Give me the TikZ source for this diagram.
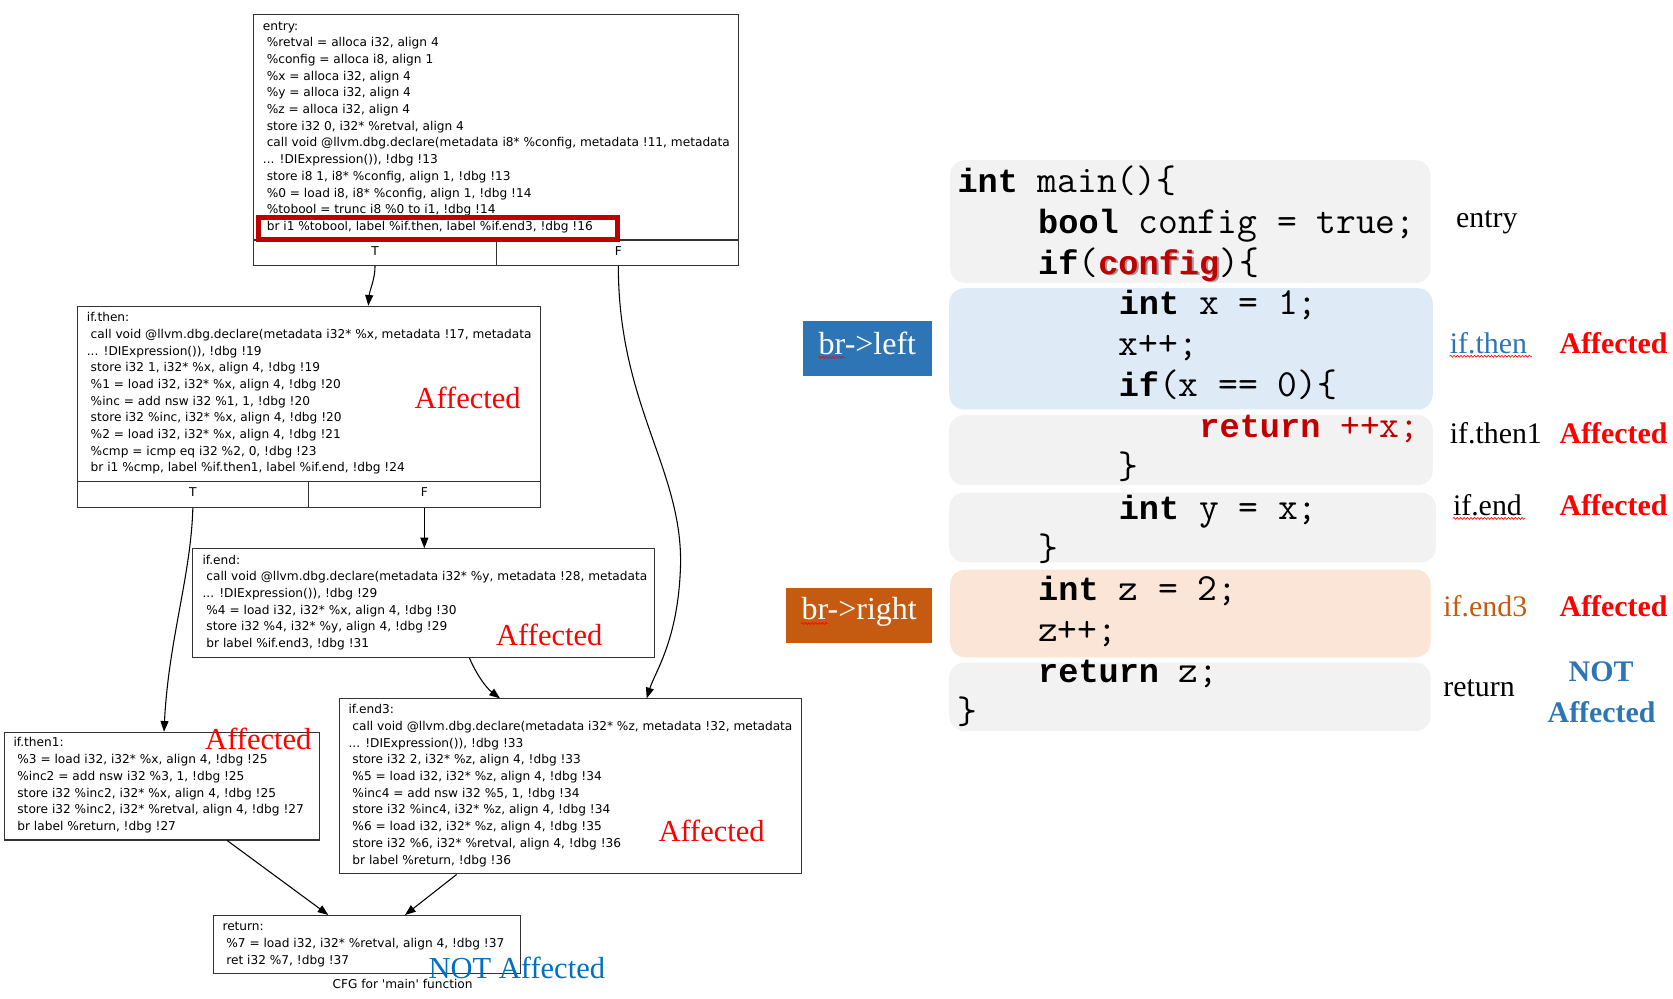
\documentclass[tikz,border=0pt]{standalone}
\usepackage{fontspec}
\usetikzlibrary{arrows.meta,decorations.pathmorphing}
\newfontfamily\cfgfont{DejaVu Sans}
\newfontfamily\codefont{Liberation Mono}
\newfontfamily\lblfont{Liberation Serif}
\definecolor{codegray}{HTML}{F2F2F2}
\definecolor{codeblue}{HTML}{DEEBF7}
\definecolor{codepeach}{HTML}{FBE5D6}
\definecolor{brblue}{HTML}{2E75B6}
\definecolor{brorange}{HTML}{C55A11}
\definecolor{darkred}{HTML}{C00000}
\definecolor{affred}{HTML}{FF0000}
\definecolor{notblue}{HTML}{0070C0}
\newcommand\cfgsize{\fontsize{11.4pt}{15.65pt}\selectfont}
\newcommand\irblock[1]{\vtop{\cfgfont\cfgsize\baselineskip=15.65pt\lineskiplimit=-100pt\lineskip=0pt #1}}
\newcommand\irl[1]{\hbox{#1}}
\newcommand\kw[1]{{\codefont\bfseries\fontsize{31.5pt}{38pt}\selectfont #1}}
\tikzset{
  cfgbox/.style={draw=black!80, line width=1pt, inner sep=0pt, anchor=north west},
  irtext/.style={anchor=base west, inner sep=0pt},
  port/.style={anchor=base, inner sep=0pt, font=\cfgfont\cfgsize},
  edge/.style={draw=black, line width=1pt, -{Triangle[length=10pt,width=7.5pt]}},
  affcfg/.style={anchor=base west, inner sep=0pt, text=affred, font=\lblfont\fontsize{28.6pt}{34pt}\selectfont},
  codebox/.style={rounded corners=14pt, inner sep=0pt, anchor=north west, draw=none},
  codeline/.style={anchor=base west, inner sep=0pt, font=\ttfamily\fontsize{36pt}{38pt}\selectfont},
  lbl/.style={anchor=base west, inner sep=0pt, font=\lblfont\fontsize{28pt}{34pt}\selectfont},
  lblaff/.style={lbl, text=affred, font=\lblfont\bfseries\fontsize{28pt}{34pt}\selectfont},
  brtxt/.style={anchor=base, inner sep=0pt, text=white, font=\lblfont\fontsize{30pt}{36pt}\selectfont},
  squig/.style={draw=red, line width=0.6pt, decorate, decoration={snake, amplitude=0.9pt, segment length=3.2pt}}
}
\begin{document}
\begin{tikzpicture}[x=1pt,y=-1pt]
\useasboundingbox (0,0) rectangle (1568.44,936.56);

% ---------------- CFG boxes ----------------
\node[cfgbox, minimum width=454.5pt, minimum height=235.3pt] (entry) at (237.5,13.1) {};
\node[cfgbox, minimum width=433.4pt, minimum height=188.4pt] (ifthen) at (72.4,286.6) {};
\node[cfgbox, minimum width=433.2pt, minimum height=101.6pt] (ifend) at (180.3,514) {};
\node[cfgbox, minimum width=295.3pt, minimum height=101pt] (ifthenone) at (3.75,686) {};
\node[cfgbox, minimum width=432.9pt, minimum height=164.1pt] (ifendthree) at (318.1,654.7) {};
\node[cfgbox, minimum width=288.1pt, minimum height=54.7pt] (ret) at (199.4,857.8) {};

% T/F rows
\draw[line width=1pt, black!80] (entry.west |- 0,225) -- (entry.east |- 0,225);
\draw[line width=1pt, black!80] (465.6,225) -- (465.6,0 |- entry.south);
\draw[line width=1pt, black!80] (ifthen.west |- 0,451.6) -- (ifthen.east |- 0,451.6);
\draw[line width=1pt, black!80] (289.5,451.6) -- (289.5,0 |- ifthen.south);
\node[port] (entryTl) at (351.6,239.5) {T};
\node[port] (entryFl) at (579.7,239.5) {F};
\node[port] (ifthenTl) at (180.8,465.8) {T};
\node[port] (ifthenFl) at (397.8,465.8) {F};

% texts
\node[irtext] (entrytxt) at (246.3,28.2) {\irblock{%
\irl{entry:}
\irl{\ \%retval = alloca i32, align 4}
\irl{\ \%config = alloca i8, align 1}
\irl{\ \%x = alloca i32, align 4}
\irl{\ \%y = alloca i32, align 4}
\irl{\ \%z = alloca i32, align 4}
\irl{\ store i32 0, i32* \%retval, align 4}
\irl{\ call void @llvm.dbg.declare(metadata i8* \%config, metadata !11, metadata}
\irl{... !DIExpression()), !dbg !13}
\irl{\ store i8 1, i8* \%config, align 1, !dbg !13}
\irl{\ \%0 = load i8, i8* \%config, align 1, !dbg !14}
\irl{\ \%tobool = trunc i8 \%0 to i1, !dbg !14}
\irl{\ br i1 \%tobool, label \%if.then, label \%if.end3, !dbg !16}}};

\node[irtext] (ifthentxt) at (81.25,301.6) {\irblock{%
\irl{if.then:}
\irl{\ call void @llvm.dbg.declare(metadata i32* \%x, metadata !17, metadata}
\irl{... !DIExpression()), !dbg !19}
\irl{\ store i32 1, i32* \%x, align 4, !dbg !19}
\irl{\ \%1 = load i32, i32* \%x, align 4, !dbg !20}
\irl{\ \%inc = add nsw i32 \%1, 1, !dbg !20}
\irl{\ store i32 \%inc, i32* \%x, align 4, !dbg !20}
\irl{\ \%2 = load i32, i32* \%x, align 4, !dbg !21}
\irl{\ \%cmp = icmp eq i32 \%2, 0, !dbg !23}
\irl{\ br i1 \%cmp, label \%if.then1, label \%if.end, !dbg !24}}};

\node[irtext] (ifendtxt) at (189.7,528.75) {\irblock{%
\irl{if.end:}
\irl{\ call void @llvm.dbg.declare(metadata i32* \%y, metadata !28, metadata}
\irl{... !DIExpression()), !dbg !29}
\irl{\ \%4 = load i32, i32* \%x, align 4, !dbg !30}
\irl{\ store i32 \%4, i32* \%y, align 4, !dbg !29}
\irl{\ br label \%if.end3, !dbg !31}}};

\node[irtext] (ifthenonetxt) at (12.5,700.3) {\irblock{%
\irl{if.then1:}
\irl{\ \%3 = load i32, i32* \%x, align 4, !dbg !25}
\irl{\ \%inc2 = add nsw i32 \%3, 1, !dbg !25}
\irl{\ store i32 \%inc2, i32* \%x, align 4, !dbg !25}
\irl{\ store i32 \%inc2, i32* \%retval, align 4, !dbg !27}
\irl{\ br label \%return, !dbg !27}}};

\node[irtext] (ifendthreetxt) at (326.6,669.2) {\irblock{%
\irl{if.end3:}
\irl{\ call void @llvm.dbg.declare(metadata i32* \%z, metadata !32, metadata}
\irl{... !DIExpression()), !dbg !33}
\irl{\ store i32 2, i32* \%z, align 4, !dbg !33}
\irl{\ \%5 = load i32, i32* \%z, align 4, !dbg !34}
\irl{\ \%inc4 = add nsw i32 \%5, 1, !dbg !34}
\irl{\ store i32 \%inc4, i32* \%z, align 4, !dbg !34}
\irl{\ \%6 = load i32, i32* \%z, align 4, !dbg !35}
\irl{\ store i32 \%6, i32* \%retval, align 4, !dbg !36}
\irl{\ br label \%return, !dbg !36}}};

\node[irtext] (rettxt) at (208.4,872.5) {\irblock{%
\irl{return:}
\irl{\ \%7 = load i32, i32* \%retval, align 4, !dbg !37}
\irl{\ ret i32 \%7, !dbg !37}}};

\node[anchor=base, inner sep=0pt, font=\cfgfont\cfgsize] (caption) at (377.4,926.6) {CFG for 'main' function};

% highlighted branch
\node[draw=darkred, line width=5pt, inner sep=0pt, minimum width=336.5pt, minimum height=20.4pt, anchor=north west] (brbox) at (240,201.5) {};

% ports
\coordinate (entryT) at (351.6,0 |- entry.south);
\coordinate (entryF) at (579.7,0 |- entry.south);
\coordinate (ifthenT) at (180.8,0 |- ifthen.south);
\coordinate (ifthenF) at (397.8,0 |- ifthen.south);

% edges
\draw[edge] (entryT) .. controls (351.6,262) and (346.5,272) .. (345.3,0 |- ifthen.north);
\draw[edge] (entryF) .. controls (579.7,380) and (640,440) .. (638,530) .. controls (636,600) and (614,630) .. (606.3,0 |- ifendthree.north);
\draw[edge] (ifthenT) .. controls (179,540) and (158,600) .. (153.75,0 |- ifthenone.north);
\draw[edge] (ifthenF) -- (397.8,0 |- ifend.north);
\draw[edge] (440,0 |- ifend.south) .. controls (447,633) and (456,645) .. (468.75,0 |- ifendthree.north);
\draw[edge] (213,0 |- ifthenone.south) -- (307.8,0 |- ret.north);
\draw[edge] (428.1,0 |- ifendthree.south) -- (379.7,0 |- ret.north);

% Affected labels in CFG
\node[affcfg] (aff1) at (388.4,382.8) {Affected};
\node[affcfg] (aff2) at (465,605.5) {Affected};
\node[affcfg] (aff3) at (192.2,703.1) {Affected};
\node[affcfg] (aff4) at (617.2,789) {Affected};
\node[affcfg, text=notblue] (aff5) at (401.6,917.2) {NOT Affected};

% ---------------- Code panel ----------------
\node[codebox, fill=codegray, minimum width=450.4pt, minimum height=115pt] (cb1) at (890.6,150) {};
\node[codebox, fill=codeblue, minimum width=453.3pt, minimum height=113.7pt] (cb2) at (889.7,270) {};
\node[codebox, fill=codegray, minimum width=453.3pt, minimum height=65.7pt] (cb3) at (889.7,389) {};
\node[codebox, fill=codegray, minimum width=456.3pt, minimum height=65.4pt] (cb4) at (889.7,461.6) {};
\node[codebox, fill=codepeach, minimum width=450.4pt, minimum height=82.2pt] (cb5) at (890.6,533.8) {};
\node[codebox, fill=codegray, minimum width=451.3pt, minimum height=64pt] (cb6) at (889.7,621) {};

\node[codeline] (c1) at (897.5,180.3) {\kw{int} main()\{};
\node[codeline] (c2) at (973.1,218.6) {\kw{bool} config = true;};
\node[codeline, text=black!40] (c3s) at (1031.3,258.4) {\kw{config}};
\node[codeline] (c3) at (973.1,256.9) {\kw{if}(\textcolor{darkred}{\kw{config}})\{};
\node[codeline] (c4) at (1048.7,295.2) {\kw{int} x = 1;};
\node[codeline] (c5) at (1048.7,333.5) {x++;};
\node[codeline] (c6) at (1048.7,371.8) {\kw{if}(x == 0)\{};
\node[codeline, text=darkred] (c7) at (1124.3,410.1) {\kw{return} ++x;};
\node[codeline] (c8) at (1048.7,448.4) {\}};
\node[codeline] (c9) at (1048.7,486.7) {\kw{int} y = x;};
\node[codeline] (c10) at (973.1,525) {\}};
\node[codeline] (c11) at (973.1,563.3) {\kw{int} z = 2;};
\node[codeline] (c12) at (973.1,601.6) {z++;};
\node[codeline] (c13) at (973.1,639.9) {\kw{return} z;};
\node[codeline] (c14) at (897.5,678.2) {\}};

% br boxes
\node[fill=brblue, inner sep=0pt, minimum width=121.5pt, minimum height=51.9pt, anchor=north west] (brleft) at (752.5,300.6) {};
\node[brtxt] (brlefttxt) at (813.2,331.9) {br->left};
\node[fill=brorange, inner sep=0pt, minimum width=137pt, minimum height=52.4pt, anchor=north west] (brright) at (737,550.6) {};
\node[brtxt] (brrighttxt) at (805.5,581) {br->right};
\draw[squig] (767,335) -- (792,335);
\draw[squig] (751,584.5) -- (776,584.5);

% right labels
\node[lbl] (lentry) at (1365,213) {entry};
\node[lbl, text=brblue] (lifthen) at (1359,331) {if.then};
\node[lblaff] (la1) at (1462,331) {Affected};
\node[lbl] (lifthenone) at (1359,416) {if.then1};
\node[lblaff] (la2) at (1462,416) {Affected};
\node[lbl] (lifend) at (1362,483) {if.end};
\node[lblaff] (la3) at (1462,483) {Affected};
\node[lbl, text=brorange] (lifendthree) at (1353,578) {if.end3};
\node[lblaff] (la4) at (1462,578) {Affected};
\node[lbl] (lreturn) at (1353,653) {return};
\node[anchor=base, inner sep=0pt, text=brblue, font=\lblfont\bfseries\fontsize{28pt}{34pt}\selectfont] (lnot) at (1501,639) {NOT};
\node[anchor=base, inner sep=0pt, text=brblue, font=\lblfont\bfseries\fontsize{28pt}{34pt}\selectfont] (lnotaff) at (1501.5,677) {Affected};
\draw[squig] (1359,334) -- (1436,334);
\draw[squig] (1362,486) -- (1430,486);
\end{tikzpicture}
\end{document}
